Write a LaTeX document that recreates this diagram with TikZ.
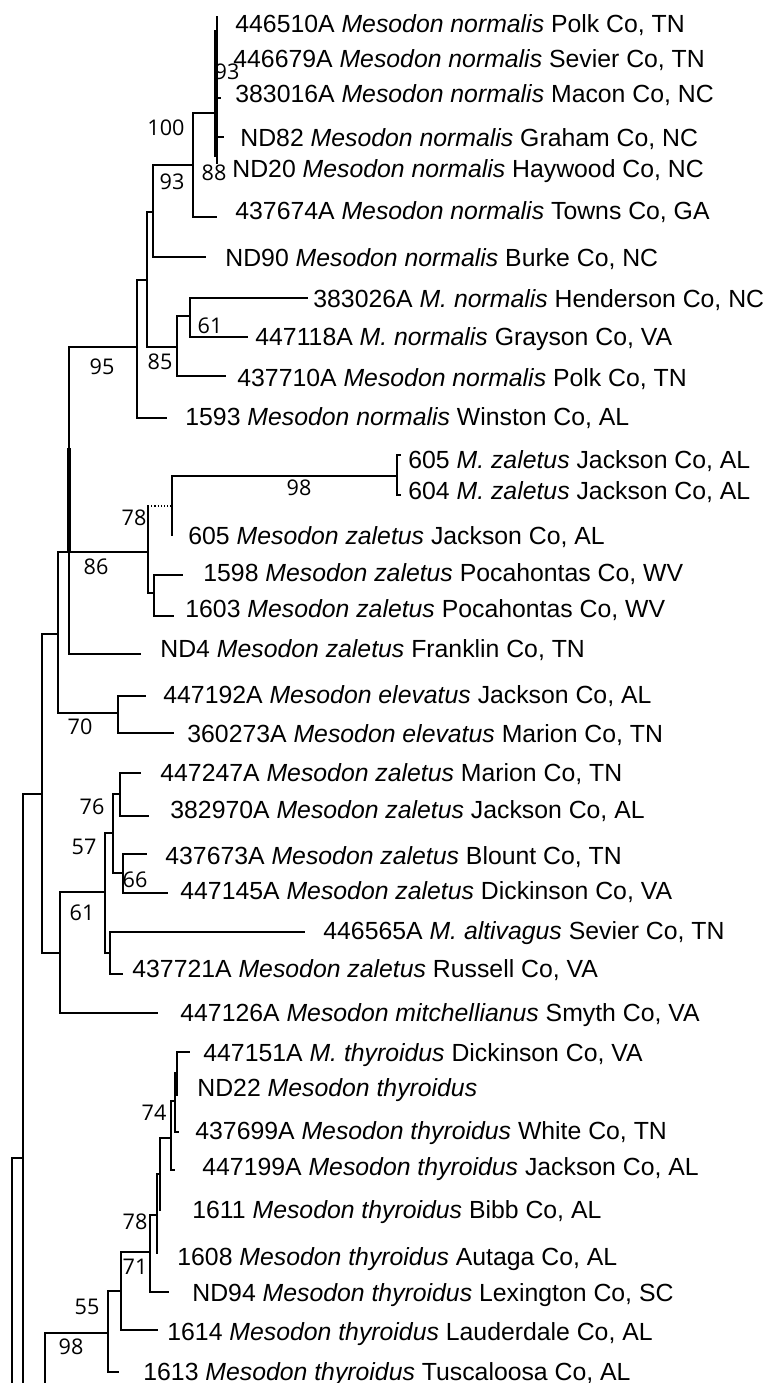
\documentclass[tikz,border=0pt]{standalone}
\usepackage{fontspec}
\setmainfont{Liberation Sans}
\newfontfamily\supfont{Open Sans}
\begin{document}
\begin{tikzpicture}[x=0.5pt,y=-0.5pt,
  br/.style={line width=1pt, line cap=rect, line join=miter, draw=black},
  thickbr/.style={line width=2.2pt, draw=black},
  leaf/.style={anchor=base west, inner sep=0pt, font=\fontsize{12.4}{14}\selectfont},
  sup/.style={inner sep=0pt, font=\supfont\fontsize{10.8}{12}\selectfont}]
\useasboundingbox (0,0) rectangle (772,1383);
\fill[white] (0,0) rectangle (772,1383);

% ---------- leaf tips ----------
\coordinate (l1) at (217,17);
\coordinate (l3) at (220,98);
\coordinate (l4) at (223,137);
\coordinate (l5) at (217,163);
\coordinate (l6) at (216,217);
\coordinate (l7) at (205,257);
\coordinate (l8) at (307,298);
\coordinate (l9) at (247,337);
\coordinate (l10) at (225,376);
\coordinate (l11) at (166,418);
\coordinate (l12) at (400,455);
\coordinate (l13) at (400,495);
\coordinate (l14) at (172,535);
\coordinate (l15) at (182,575);
\coordinate (l16) at (173,616);
\coordinate (l17) at (140,654);
\coordinate (l18) at (145,696);
\coordinate (l19) at (173,733);
\coordinate (l20) at (140,773);
\coordinate (l21) at (148,816);
\coordinate (l22) at (146,854);
\coordinate (l23) at (167,893);
\coordinate (l24) at (304,932);
\coordinate (l25) at (122,974);
\coordinate (l26) at (157,1013);
\coordinate (l27) at (189,1052);
\coordinate (l28) at (177,1095);
\coordinate (l29) at (178,1132);
\coordinate (l30) at (174,1170);
\coordinate (l31) at (160,1210);
\coordinate (l32) at (157,1253);
\coordinate (l33) at (168,1292);
\coordinate (l34) at (157,1330);
\coordinate (l35) at (118,1372);
\coordinate (bot) at (0,1383);

% ---------- internal nodes ----------
\coordinate (nF) at (217,113);
\coordinate (nE) at (193,165);
\coordinate (nD) at (153,212);
\coordinate (nB) at (147,280);
\coordinate (nG) at (190,316);
\coordinate (n85) at (177,347);
\coordinate (nA) at (137,347);
\coordinate (nH) at (397,476);
\coordinate (nI) at (172,506);
\coordinate (nK) at (154,593);
\coordinate (nJ) at (148,552);
\coordinate (nC) at (69,552);
\coordinate (nN) at (118,713);
\coordinate (nM) at (58,634);
\coordinate (nS) at (120,794);
\coordinate (nT) at (123,873);
\coordinate (nR) at (113,833);
\coordinate (nU) at (110,953);
\coordinate (nQ) at (105,892);
\coordinate (nP) at (60,953);
\coordinate (nO) at (42,794);
\coordinate (n23) at (23,1158);
\coordinate (n12) at (12,1383);
\coordinate (nY) at (177,1073);
\coordinate (nX) at (175,1101);
\coordinate (nW) at (171,1138);
\coordinate (nZ) at (160,1174);
\coordinate (nAA) at (157,1215);
\coordinate (nBB) at (150,1252);
\coordinate (nCC) at (121,1291);
\coordinate (nDD) at (108,1333);
\coordinate (n45) at (45,1383);

% ---------- branches ----------
\draw[br] (l1) -- (l5);
\draw[thickbr] (216,30) -- (216,157);
\draw[br] (nF |- l3) -- (l3);
\draw[br] (nF |- l4) -- (l4);
\draw[br] (nF) -| (nE) |- (l6);
\draw[br] (nE) -| (nD) |- (l7);
\draw[br] (nD) -| (nB) |- (n85);
\draw[br] (l8) -| (nG) |- (l9);
\draw[br] (nG) -| (n85) |- (l10);
\draw[br] (nB) -| (nA) |- (l11);
\draw[br] (nA) -| (nC) |- (l17);
\draw[thickbr] (69,448) -- (69,552);
\draw[br] (l12) -| (nH) |- (l13);
\draw[br] (nH) -| (nI) |- (l14);
\draw[densely dotted, line width=0.6pt] (nJ |- nI) -- (nI);
\draw[br] (nJ |- nI) -- (nJ) |- (nK);
\draw[br] (l15) -| (nK) |- (l16);
\draw[br] (nJ) -- (nC);
\draw[br] (nC) -| (nM) |- (nN);
\draw[br] (l18) -| (nN) |- (l19);
\draw[br] (l20) -| (nS) |- (l21);
\draw[br] (l22) -| (nT) |- (l23);
\draw[br] (nS) -| (nR) |- (nT);
\draw[br] (nR) -| (nQ) |- (nU);
\draw[br] (l24) -| (nU) |- (l25);
\draw[br] (nQ) -| (nP) |- (l26);
\draw[br] (nM) -| (nO) |- (nP);
\draw[br] (nO) -| (n23) -- (n23 |- bot);
\draw[br] (n23) -| (n12);
\draw[br] (l27) -| (nY) |- (l28);
\draw[br] (nY) -| (nX) |- (l29);
\draw[br] (nX) -| (nW) |- (l30);
\draw[br] (nW) -| (nZ) |- (l31);
\draw[br] (nZ) -| (nAA) |- (l32);
\draw[br] (nAA) -| (nBB) |- (l33);
\draw[br] (nBB) -| (nCC) |- (l34);
\draw[br] (nCC) -| (nDD) |- (l35);
\draw[br] (nDD) -| (n45);

% ---------- support values ----------
\node[sup] (s1) at (227,72) {93};
\node[sup] (s2) at (166,128) {100};
\node[sup] (s3) at (172,182) {93};
\node[sup] (s4) at (214,173) {88};
\node[sup] (s5) at (210,326) {61};
\node[sup] (s6) at (160,362) {85};
\node[sup] (s7) at (102,367) {95};
\node[sup] (s8) at (299,488) {98};
\node[sup] (s9) at (134,518) {78};
\node[sup] (s10) at (96,567) {86};
\node[sup] (s11) at (80,727) {70};
\node[sup] (s12) at (92,807) {76};
\node[sup] (s13) at (84,847) {57};
\node[sup] (s14) at (135,880) {66};
\node[sup] (s15) at (82,913) {61};
\node[sup] (s16) at (154,1113) {74};
\node[sup] (s17) at (135,1222) {78};
\node[sup] (s18) at (135,1267) {71};
\node[sup] (s19) at (87,1307) {55};
\node[sup] (s20) at (71,1347) {98};

% ---------- leaf labels ----------
\node[leaf] (t1) at (235,32) {446510A \textit{Mesodon normalis} Polk Co, TN};
\node[leaf] (t2) at (233,67) {446679A \textit{Mesodon normalis} Sevier Co, TN};
\node[leaf] (t3) at (235,102) {383016A \textit{Mesodon normalis} Macon Co, NC};
\node[leaf] (t4) at (240,146) {ND82 \textit{Mesodon normalis} Graham Co, NC};
\node[leaf] (t5) at (232,177) {ND20 \textit{Mesodon normalis} Haywood Co, NC};
\node[leaf] (t6) at (235,219) {437674A \textit{Mesodon normalis} Towns Co, GA};
\node[leaf] (t7) at (225,266) {ND90 \textit{Mesodon normalis} Burke Co, NC};
\node[leaf] (t8) at (313,307) {383026A \textit{M. normalis} Henderson Co, NC};
\node[leaf] (t9) at (255,345) {447118A \textit{M. normalis} Grayson Co, VA};
\node[leaf] (t10) at (237,386) {437710A \textit{Mesodon normalis} Polk Co, TN};
\node[leaf] (t11) at (185,425) {1593 \textit{Mesodon normalis} Winston Co, AL};
\node[leaf] (t12) at (408,468) {605 \textit{M. zaletus} Jackson Co, AL};
\node[leaf] (t13) at (408,499) {604 \textit{M. zaletus} Jackson Co, AL};
\node[leaf] (t14) at (188,544) {605 \textit{Mesodon zaletus} Jackson Co, AL};
\node[leaf] (t15) at (203,581) {1598 \textit{Mesodon zaletus} Pocahontas Co, WV};
\node[leaf] (t16) at (185,617) {1603 \textit{Mesodon zaletus} Pocahontas Co, WV};
\node[leaf] (t17) at (160,657) {ND4 \textit{Mesodon zaletus} Franklin Co, TN};
\node[leaf] (t18) at (163,703) {447192A \textit{Mesodon elevatus} Jackson Co, AL};
\node[leaf] (t19) at (187,742) {360273A \textit{Mesodon elevatus} Marion Co, TN};
\node[leaf] (t20) at (160,781) {447247A \textit{Mesodon zaletus} Marion Co, TN};
\node[leaf] (t21) at (170,818) {382970A \textit{Mesodon zaletus} Jackson Co, AL};
\node[leaf] (t22) at (165,864) {437673A \textit{Mesodon zaletus} Blount Co, TN};
\node[leaf] (t23) at (180,899) {447145A \textit{Mesodon zaletus} Dickinson Co, VA};
\node[leaf] (t24) at (323,939) {446565A \textit{M. altivagus} Sevier Co, TN};
\node[leaf] (t25) at (132,977) {437721A \textit{Mesodon zaletus} Russell Co, VA};
\node[leaf] (t26) at (180,1021) {447126A \textit{Mesodon mitchellianus} Smyth Co, VA};
\node[leaf] (t27) at (203,1061) {447151A \textit{M. thyroidus} Dickinson Co, VA};
\node[leaf] (t28) at (197,1096) {ND22 \textit{Mesodon thyroidus}};
\node[leaf] (t29) at (195,1139) {437699A \textit{Mesodon thyroidus} White Co, TN};
\node[leaf] (t30) at (202,1175) {447199A \textit{Mesodon thyroidus} Jackson Co, AL};
\node[leaf] (t31) at (192,1218) {1611 \textit{Mesodon thyroidus} Bibb Co, AL};
\node[leaf] (t32) at (177,1265) {1608 \textit{Mesodon thyroidus} Autaga Co, AL};
\node[leaf] (t33) at (192,1301) {ND94 \textit{Mesodon thyroidus} Lexington Co, SC};
\node[leaf] (t34) at (167,1340) {1614 \textit{Mesodon thyroidus} Lauderdale Co, AL};
\node[leaf] (t35) at (143,1380) {1613 \textit{Mesodon thyroidus} Tuscaloosa Co, AL};
\end{tikzpicture}
\end{document}
